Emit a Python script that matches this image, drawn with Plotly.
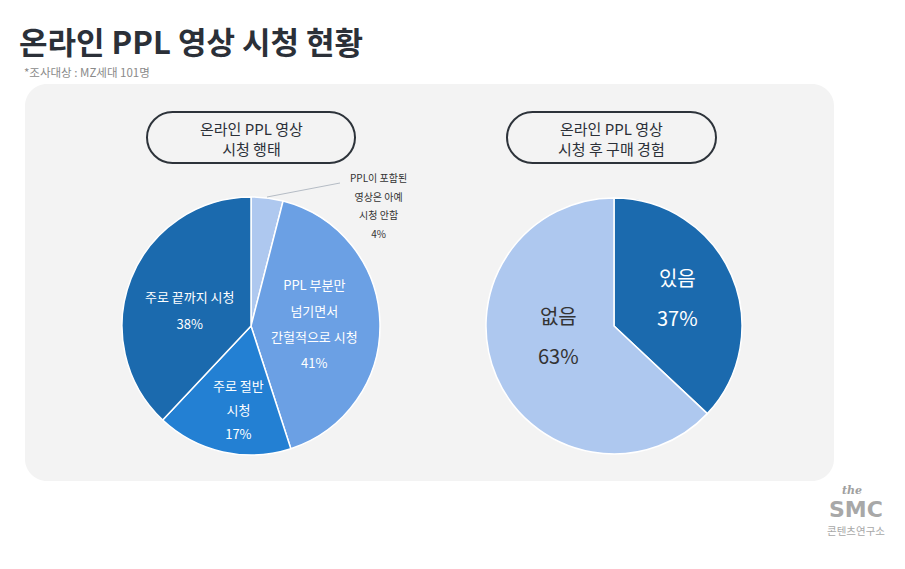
import plotly.graph_objects as go

W, H = 905, 569
OFF = 8  # page body margin shifts the figure, compensate

# 온라인 PPL 영상 시청 행태 (%)
behavior_labels = ["PPL이 포함된 영상은 아예 시청 안함", "PPL 부분만 넘기면서 간헐적으로 시청",
                   "주로 절반 시청", "주로 끝까지 시청"]
behavior_lines = [["PPL이 포함된", "영상은 아예", "시청 안함"],
                  ["PPL 부분만", "넘기면서", "간헐적으로 시청"],
                  ["주로 절반", "시청"],
                  ["주로 끝까지 시청"]]
behavior_values = [4, 41, 17, 38]
behavior_colors = ["#aec8ef", "#6ba0e4", "#2380d3", "#1b6aae"]

# 온라인 PPL 영상 시청 후 구매 경험 (%)
purchase_labels = ["있음", "없음"]
purchase_values = [37, 63]
purchase_colors = ["#1b6aae", "#aec8ef"]

FONT = "Noto Sans CJK KR"
DARK = "#2b3038"


def px(x):
    return (x - OFF) / W


def py(y):
    return 1 - (y - OFF) / H


def rounded_path(x0, y0, x1, y1, r):
    k = 0.5523 * r
    p = [("M", x0 + r, y0), ("L", x1 - r, y0),
         ("C", x1 - r + k, y0, x1, y0 + r - k, x1, y0 + r), ("L", x1, y1 - r),
         ("C", x1, y1 - r + k, x1 - r + k, y1, x1 - r, y1), ("L", x0 + r, y1),
         ("C", x0 + r - k, y1, x0, y1 - r + k, x0, y1 - r), ("L", x0, y0 + r),
         ("C", x0, y0 + r - k, x0 + r - k, y0, x0 + r, y0)]
    out = []
    for seg in p:
        cmd, vals = seg[0], seg[1:]
        pts = []
        for i in range(0, len(vals), 2):
            pts.append(f"{px(vals[i]):.5f},{py(vals[i + 1]):.5f}")
        out.append(cmd + " " + " ".join(pts))
    return " ".join(out) + " Z"


def pie_domain(cx, cy, r):
    return dict(x=[px(cx - r), px(cx + r)], y=[py(cy + r), py(cy - r)])


fig = go.Figure()

fig.add_trace(go.Pie(
    labels=behavior_labels, values=behavior_values, sort=False,
    direction="clockwise", rotation=0,
    marker=dict(colors=behavior_colors, line=dict(color="white", width=1.5)),
    textinfo="none", hoverinfo="label+percent",
    domain=pie_domain(251, 326, 129), showlegend=False,
))

fig.add_trace(go.Pie(
    labels=purchase_labels, values=purchase_values, sort=False,
    direction="clockwise", rotation=0,
    marker=dict(colors=purchase_colors, line=dict(color="white", width=1.5)),
    textinfo="none", hoverinfo="label+percent",
    domain=pie_domain(614, 326, 128), showlegend=False,
))


def label(x, y, lines, size, gap, color):
    # big base font gives the wide line gap, spans keep the glyphs small
    txt = "<br>".join(f"<span style='font-size:{size}px'>{l}</span>" for l in lines)
    return dict(x=px(x), y=py(y), xref="paper", yref="paper", text=txt,
                showarrow=False, xanchor="center", yanchor="middle",
                font=dict(family=FONT, size=gap / 1.3, color=color))


annotations = [
    dict(x=px(17), y=py(40), xref="paper", yref="paper", xanchor="left", yanchor="middle",
         text="<b>온라인 PPL 영상 시청 현황</b>", showarrow=False,
         font=dict(family=FONT, size=31, color=DARK)),
    dict(x=px(22), y=py(72), xref="paper", yref="paper", xanchor="left", yanchor="middle",
         text="*조사대상 : MZ세대 101명", showarrow=False,
         font=dict(family=FONT, size=11.5, color="#8a8a8a")),
    dict(x=px(251), y=py(138), xref="paper", yref="paper", xanchor="center", yanchor="middle",
         text="온라인 PPL 영상<br>시청 행태", showarrow=False,
         font=dict(family=FONT, size=15, color=DARK)),
    dict(x=px(611.5), y=py(138), xref="paper", yref="paper", xanchor="center", yanchor="middle",
         text="온라인 PPL 영상<br>시청 후 구매 경험", showarrow=False,
         font=dict(family=FONT, size=15, color=DARK)),
]

label_pos = [(378, 206, 10, 18.5, "#333333"),
             (314, 323, 13, 26, "white"),
             (238, 409, 13, 24, "white"),
             (190, 310, 13, 26.5, "white")]
for lines, v, (x, y, s, g, c) in zip(behavior_lines, behavior_values, label_pos):
    annotations.append(label(x, y, lines + [f"{v}%"], s, g, c))

purchase_pos = [(677, 297, "white"), (558, 335, "#333333")]
for lab, v, (x, y, c) in zip(purchase_labels, purchase_values, purchase_pos):
    annotations.append(label(x, y, [lab, f"{v}%"], 20, 40, c))

# logo
annotations += [
    dict(x=px(852), y=py(490), xref="paper", yref="paper", text="<i><b>the</b></i>",
         showarrow=False, xanchor="center", yanchor="middle",
         font=dict(family="DejaVu Serif", size=11, color="#a0a0a0")),
    dict(x=px(856), y=py(509), xref="paper", yref="paper", text="<b>SMC</b>",
         showarrow=False, xanchor="center", yanchor="middle",
         font=dict(family="DejaVu Sans", size=22, color="#a8a8a8")),
    dict(x=px(856), y=py(530), xref="paper", yref="paper", text="콘텐츠연구소",
         showarrow=False, xanchor="center", yanchor="middle",
         font=dict(family=FONT, size=10.5, color="#a8a8a8")),
]

shapes = [
    dict(type="path", xref="paper", yref="paper", layer="below",
         path=rounded_path(25, 84, 834, 481, 22),
         fillcolor="#f3f3f3", line=dict(width=0)),
    dict(type="path", xref="paper", yref="paper",
         path=rounded_path(147, 112, 355, 163, 25.5),
         fillcolor="rgba(0,0,0,0)", line=dict(color="#2d333a", width=2)),
    dict(type="path", xref="paper", yref="paper",
         path=rounded_path(507, 112, 716, 163, 25.5),
         fillcolor="rgba(0,0,0,0)", line=dict(color="#2d333a", width=2)),
    dict(type="line", xref="paper", yref="paper",
         x0=px(267), y0=py(197), x1=px(340), y1=py(183),
         line=dict(color="#b5bcc5", width=1)),
]

fig.update_layout(
    width=W, height=H,
    margin=dict(l=0, r=0, t=0, b=0),
    paper_bgcolor="white", plot_bgcolor="white",
    font=dict(family=FONT),
    annotations=annotations, shapes=shapes,
)

fig.write_html("out.html")
